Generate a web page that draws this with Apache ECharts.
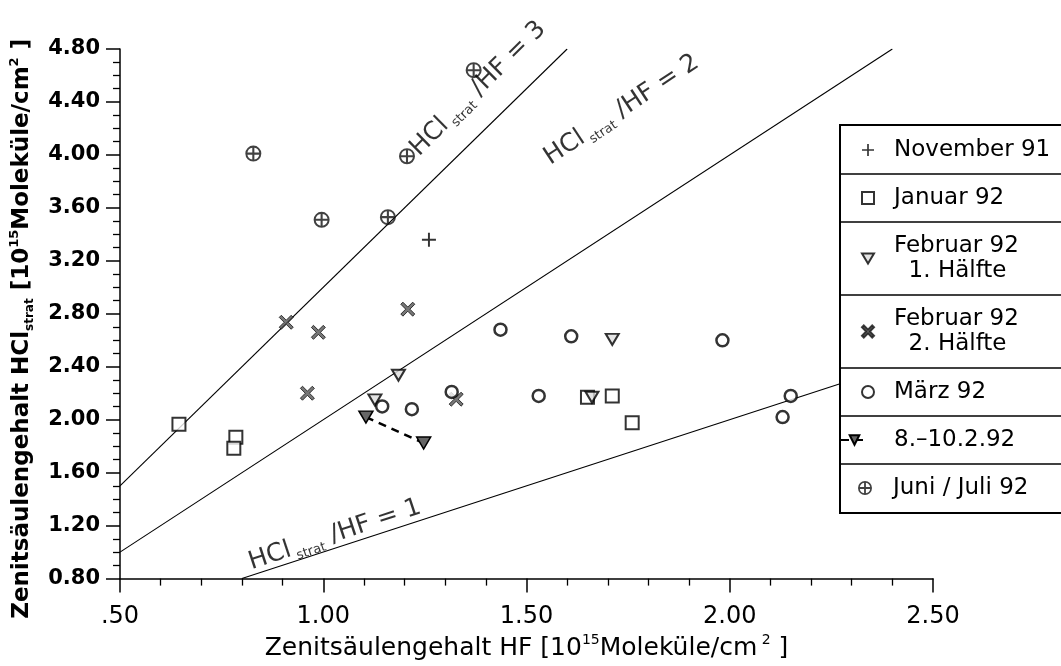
<!DOCTYPE html>
<html><head><meta charset="utf-8">
<script src="https://cdn.jsdelivr.net/npm/echarts@6/dist/echarts.min.js"></script>
<style>html,body{margin:0;padding:0;background:#fff}#c{width:1061px;height:666px}</style>
</head><body><div id="c"></div>
<script>
// ---- data ----
const xTickLabels = ['.50', '1.00', '1.50', '2.00', '2.50'];
const yTickLabels = ['0.80', '1.20', '1.60', '2.00', '2.40', '2.80', '3.20', '3.60', '4.00', '4.40', '4.80'];
const seriesNames = ['November 91', 'Januar 92', 'Februar 92\n  1. Hälfte', 'Februar 92\n  2. Hälfte', 'März 92', '8.–10.2.92', 'Juni / Juli 92'];
const nov91 = [[1.26, 3.36]];
const jan92 = [[0.645, 1.965], [0.785, 1.867], [0.78, 1.785], [1.65, 2.17], [1.711, 2.18], [1.76, 1.978]];
const feb92a = [[1.185, 2.336], [1.127, 2.15], [1.661, 2.17], [1.711, 2.607]];
const feb92b = [[0.909, 2.736], [0.988, 2.66], [1.208, 2.835], [0.961, 2.2], [1.327, 2.155]];
const mar92 = [[1.145, 2.10], [1.218, 2.08], [1.316, 2.21], [1.436, 2.68], [1.61, 2.63], [1.53, 2.18], [1.982, 2.60], [2.15, 2.18], [2.13, 2.02]];
const feb8to10 = [[1.105, 2.02], [1.247, 1.824]];
const junJul92 = [[0.828, 4.01], [0.996, 3.51], [1.159, 3.53], [1.206, 3.99], [1.37, 4.64]];
const ratioValues = [1, 2, 3];
const ratio1Line = [[0.8, 0.8], [2.5, 2.5]];
const ratio2Line = [[0.5, 1.0], [2.4, 4.8]];
const ratio3Line = [[0.5, 1.5], [1.6, 4.8]];
const ratioLabelAt = [[0.83, 0.81], [1.57, 3.87], [1.25, 3.94]];

// ---- layout ----
const W = 1061, H = 666;
const G = { left: 117, right: 128, top: 49, bottom: 77 };
const X_MIN = 0.5, X_MAX = 2.5, Y_MIN = 0.8, Y_MAX = 4.8;
const plotW = W - G.left - G.right, plotH = H - G.top - G.bottom;
const FONT = 'DejaVu Sans';

const SYM_PLUS = 'path://M8.6,0H11.4V8.6H20V11.4H11.4V20H8.6V11.4H0V8.6H8.6Z';
const SYM_X = 'path://M0,3L3,0L10,7L17,0L20,3L13,10L20,17L17,20L10,13L3,20L0,17L7,10Z';
const SYM_TRI_DOWN = 'path://M0,0L20,0L10,17Z';
const SYM_OPLUS = 'path://M0,10A10,10 0 1,1 20,10A10,10 0 1,1 0,10Z' +
  'M11.3,8.7L17.4,8.7A7.5,7.5 0 0,0 11.3,2.6Z' +
  'M8.7,2.6A7.5,7.5 0 0,0 2.6,8.7L8.7,8.7Z' +
  'M2.6,11.3A7.5,7.5 0 0,0 8.7,17.4L8.7,11.3Z' +
  'M11.3,17.4A7.5,7.5 0 0,0 17.4,11.3L11.3,11.3Z';

function slopeDeg(k) {
  return Math.atan(k * (plotH / (Y_MAX - Y_MIN)) / (plotW / (X_MAX - X_MIN))) * 180 / Math.PI;
}

function makeRich(size, weight) {
  return {
    a: { fontFamily: FONT, fontSize: size, fontWeight: weight, color: '#000', lineHeight: size + 5, verticalAlign: 'middle' },
    sub: { fontFamily: FONT, fontSize: Math.round(size * 0.52), fontWeight: weight, color: '#000', lineHeight: 12, verticalAlign: 'bottom' },
    sup: { fontFamily: FONT, fontSize: Math.round(size * 0.56), fontWeight: weight, color: '#000', lineHeight: 16, verticalAlign: 'top' }
  };
}

function ratioLine(data) {
  return {
    type: 'line', data: data, symbol: 'none', silent: true, z: 1,
    lineStyle: { color: '#000', width: 1.1 }, tooltip: { show: false }
  };
}

const ratioLabels = {
  type: 'scatter', symbolSize: 0, silent: true, z: 3,
  data: ratioLabelAt.map((p, i) => ({
    value: p,
    label: {
      show: true, position: [0, 0], align: 'left', verticalAlign: 'bottom',
      rotate: slopeDeg(ratioValues[i]),
      formatter: '{a|HCl}{sub| strat}{a| /HF = ' + ratioValues[i] + '}', rich: makeRich(25, 'normal')
    }
  }))
};

const series = [
  ratioLine(ratio1Line), ratioLine(ratio2Line), ratioLine(ratio3Line), ratioLabels,
  { name: seriesNames[0], type: 'scatter', data: nov91, symbol: SYM_PLUS, symbolSize: 14,
    itemStyle: { color: '#000' } },
  { name: seriesNames[1], type: 'scatter', data: jan92, symbol: 'rect', symbolSize: 13,
    itemStyle: { color: '#fff', borderColor: '#000', borderWidth: 2 } },
  { name: seriesNames[2], type: 'scatter', data: feb92a, symbol: SYM_TRI_DOWN, symbolSize: [13, 11],
    itemStyle: { color: '#ddd', borderColor: '#000', borderWidth: 2 } },
  { name: seriesNames[3], type: 'scatter', data: feb92b, symbol: SYM_X, symbolSize: 14,
    itemStyle: { color: '#555', borderColor: '#111', borderWidth: 1 } },
  { name: seriesNames[4], type: 'scatter', data: mar92, symbol: 'circle', symbolSize: 12,
    itemStyle: { color: '#fff', borderColor: '#000', borderWidth: 2.5 } },
  { name: seriesNames[5], type: 'line', data: feb8to10, symbol: SYM_TRI_DOWN, symbolSize: [14, 12],
    showAllSymbol: true,
    lineStyle: { color: '#000', width: 2.5, type: [8, 6] },
    itemStyle: { color: '#666', borderColor: '#000', borderWidth: 1.5 } },
  { name: seriesNames[6], type: 'scatter', data: junJul92, symbol: SYM_OPLUS, symbolSize: 16,
    itemStyle: { color: '#111' } }
];

// legend layout (three stacked legends so icon widths can differ)
const LEG_TEXT = { fontFamily: FONT, fontSize: 23, color: '#000', lineHeight: 25 };
const legendCommon = { orient: 'vertical', padding: 0, itemGap: 23, selectedMode: false, z: 60 };
const option = {
  animation: false,
  backgroundColor: '#fff',
  grid: G,
  xAxis: {
    type: 'value', min: X_MIN, max: X_MAX, interval: 0.5,
    axisLine: { lineStyle: { color: '#000', width: 1.5 } },
    axisTick: { show: true, length: 14, lineStyle: { color: '#000', width: 1.5 } },
    minorTick: { show: true, splitNumber: 5, length: 7, lineStyle: { color: '#000', width: 1.3 } },
    splitLine: { show: false },
    axisLabel: { margin: 26, color: '#000', fontFamily: FONT, fontSize: 24,
      formatter: v => xTickLabels[Math.round((v - X_MIN) / 0.5)] },
    name: '{a|Zenitsäulengehalt HF [10}{sup|15}{a|Moleküle/cm}{sup| 2}{a| ]}',
    nameLocation: 'middle', nameGap: 48,
    nameTextStyle: { rich: makeRich(25, 'normal') }
  },
  yAxis: {
    type: 'value', min: Y_MIN, max: Y_MAX, interval: 0.4,
    axisLine: { lineStyle: { color: '#000', width: 1.5 } },
    axisTick: { show: true, length: 14, lineStyle: { color: '#000', width: 1.5 } },
    minorTick: { show: true, splitNumber: 4, length: 7, lineStyle: { color: '#000', width: 1.3 } },
    splitLine: { show: false },
    axisLabel: { margin: 20, color: '#000', fontFamily: FONT, fontSize: 21, fontWeight: 'bold',
      formatter: v => yTickLabels[Math.round((v - Y_MIN) / 0.4)] },
    name: '{a|Zenitsäulengehalt HCl}{sub|strat}{a| [10}{sup|15}{a|Moleküle/cm}{sup|2}{a| ]}',
    nameLocation: 'middle', nameGap: 84, nameRotate: 90,
    nameTextStyle: { rich: makeRich(23, 'bold'), padding: [0, 30, 0, 0] }
  },
  legend: [
    Object.assign({}, legendCommon, {
      left: 861, top: 137.5, itemWidth: 12, itemHeight: 12,
      data: [
        { name: seriesNames[0] },
        { name: seriesNames[1] },
        { name: seriesNames[2], icon: SYM_TRI_DOWN },
        { name: seriesNames[3] },
        { name: seriesNames[4] }
      ],
      textStyle: Object.assign({ padding: [0, 0, 0, 15] }, LEG_TEXT)
    }),
    Object.assign({}, legendCommon, {
      left: 840, top: 427.5, itemWidth: 27, itemHeight: 12,
      data: [seriesNames[5]],
      textStyle: Object.assign({ padding: [0, 0, 0, 21] }, LEG_TEXT)
    }),
    Object.assign({}, legendCommon, {
      left: 858, top: 475.5, itemWidth: 14, itemHeight: 14,
      data: [seriesNames[6]],
      textStyle: Object.assign({ padding: [0, 0, 0, 16] }, LEG_TEXT)
    })
  ],
  graphic: [
    { type: 'rect', z: 50, shape: { x: 840, y: 125, width: 240, height: 388 },
      style: { fill: '#fff', stroke: '#000', lineWidth: 2 } },
    ...[174, 222, 295, 368, 416, 464].map(y => ({
      type: 'line', z: 51, shape: { x1: 840, y1: y, x2: 1070, y2: y },
      style: { stroke: '#000', lineWidth: 1.5 }
    }))
  ],
  series: series
};

const chart = echarts.init(document.getElementById('c'), null, { renderer: 'canvas' });
chart.setOption(option);
</script>
</body></html>
